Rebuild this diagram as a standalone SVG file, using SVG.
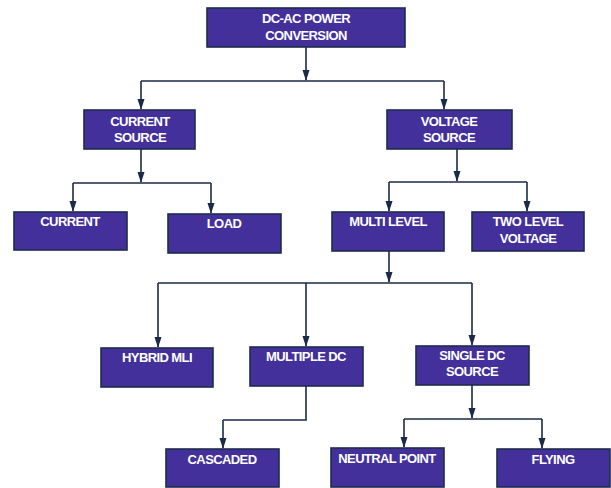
<svg xmlns="http://www.w3.org/2000/svg" width="611" height="488" viewBox="0 0 611 488">
<defs>
<marker id="ah" markerWidth="11" markerHeight="8" refX="10" refY="4" orient="auto" markerUnits="userSpaceOnUse" viewBox="0 0 11 8">
<path d="M0,0.5 L11,4 L0,7.5 Z" fill="#1b2a48"/>
</marker>
<style>
.box{fill:#44309b;stroke:#1e2c4c;stroke-width:1.6}
.t{font-family:"Liberation Sans",Arial,sans-serif;font-weight:bold;font-size:13px;fill:#ffffff;text-anchor:middle;letter-spacing:-0.6px}
.c{fill:none;stroke:#1b2a48;stroke-width:1.6}
.a{fill:none;stroke:#1b2a48;stroke-width:1.6;marker-end:url(#ah)}
</style>
</defs>
<rect width="611" height="488" fill="#ffffff"/>
<g id="connectors">
<path class="a" d="M306,47 V80"/>
<path class="c" d="M141,81 H444"/>
<path class="a" d="M141,81 V109"/>
<path class="a" d="M444,81 V109"/>
<path class="a" d="M141,149 V182"/>
<path class="c" d="M73,183 H211"/>
<path class="a" d="M73,183 V211"/>
<path class="a" d="M211,183 V213"/>
<path class="a" d="M457,149 V181"/>
<path class="c" d="M389,182 H527"/>
<path class="a" d="M389,182 V211"/>
<path class="a" d="M527,182 V211"/>
<path class="a" d="M389,251 V282"/>
<path class="c" d="M158,283 H472"/>
<path class="a" d="M158,283 V347"/>
<path class="a" d="M306,283 V346"/>
<path class="a" d="M472,283 V345"/>
<path class="c" d="M306,386 V420 H223"/>
<path class="a" d="M223,420 V448"/>
<path class="a" d="M472,385 V418"/>
<path class="c" d="M404,419 H542"/>
<path class="a" d="M404,419 V447"/>
<path class="a" d="M542,419 V448"/>
</g>
<g id="dcac"><rect class="box" x="207" y="8" width="198" height="39"/><text class="t" x="306" y="23">DC-AC POWER</text><text class="t" x="306" y="40">CONVERSION</text></g>
<g id="current-source"><rect class="box" x="84" y="110" width="111" height="39"/><text class="t" x="140" y="126">CURRENT</text><text class="t" x="140" y="142">SOURCE</text></g>
<g id="voltage-source"><rect class="box" x="387" y="110" width="125" height="39"/><text class="t" x="449" y="126">VOLTAGE</text><text class="t" x="449" y="142">SOURCE</text></g>
<g id="current"><rect class="box" x="14" y="212" width="113" height="38"/><text class="t" x="70" y="226">CURRENT</text></g>
<g id="load"><rect class="box" x="168" y="214" width="113" height="39"/><text class="t" x="224" y="228">LOAD</text></g>
<g id="multi-level"><rect class="box" x="332" y="212" width="112" height="39"/><text class="t" x="388" y="226">MULTI LEVEL</text></g>
<g id="two-level"><rect class="box" x="472" y="212" width="112" height="39"/><text class="t" x="528" y="226">TWO LEVEL</text><text class="t" x="528" y="243">VOLTAGE</text></g>
<g id="hybrid"><rect class="box" x="101" y="348" width="112" height="39"/><text class="t" x="157" y="362">HYBRID MLI</text></g>
<g id="multiple-dc"><rect class="box" x="250" y="347" width="113" height="39"/><text class="t" x="306" y="361">MULTIPLE DC</text></g>
<g id="single-dc"><rect class="box" x="416" y="346" width="113" height="39"/><text class="t" x="472" y="360">SINGLE DC</text><text class="t" x="472" y="376">SOURCE</text></g>
<g id="cascaded"><rect class="box" x="166" y="449" width="113" height="38"/><text class="t" x="222" y="464">CASCADED</text></g>
<g id="neutral"><rect class="box" x="331" y="448" width="113" height="39"/><text class="t" x="387" y="463">NEUTRAL POINT</text></g>
<g id="flying"><rect class="box" x="497" y="449" width="113" height="38"/><text class="t" x="553" y="464">FLYING</text></g>
</svg>
